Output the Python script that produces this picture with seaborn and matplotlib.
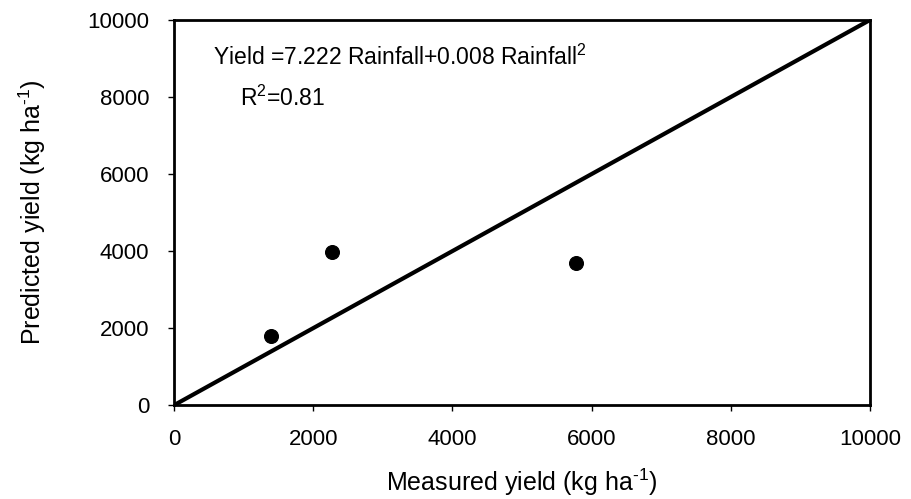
import seaborn as sns
import matplotlib.pyplot as plt
import pandas as pd

# Measured vs predicted yield (kg/ha)
measured = [1400, 2270, 5780]
predicted = [1800, 3980, 3700]

# 1:1 line
line_x = [0, 10000]
line_y = [0, 10000]

ticks = [0, 2000, 4000, 6000, 8000, 10000]

sns.set_theme(style='ticks')
plt.rcParams['font.family'] = ['Liberation Sans', 'DejaVu Sans']
plt.rcParams['mathtext.fontset'] = 'custom'
plt.rcParams['mathtext.rm'] = 'Liberation Sans'
plt.rcParams['text.color'] = 'black'
plt.rcParams['axes.labelcolor'] = 'black'
plt.rcParams['xtick.color'] = 'black'
plt.rcParams['ytick.color'] = 'black'

df = pd.DataFrame({'Measured': measured, 'Predicted': predicted})
ref = pd.DataFrame({'x': line_x, 'y': line_y})

fig = plt.figure(figsize=(9.11, 4.99), dpi=100)
ax = fig.add_axes([0.191, 0.188, 0.764, 0.772])

sns.lineplot(x='x', y='y', data=ref, color='black', linewidth=3, ax=ax)
sns.scatterplot(x='Measured', y='Predicted', data=df, color='black',
                s=100, marker='o', edgecolor='black', ax=ax, zorder=3)

ax.set_xlim(0, 10000)
ax.set_ylim(0, 10000)
ax.set_xticks(ticks)
ax.set_yticks(ticks)
ax.tick_params(labelsize=16, width=1, length=4)
ax.tick_params(axis='x', pad=13)
ax.tick_params(axis='y', pad=14)

for side in ax.spines.values():
    side.set_linewidth(2)
    side.set_color('black')

ax.set_xlabel('Measured yield (kg ha$^{\\text{-}1}$)', fontsize=18, labelpad=12)
ax.set_ylabel('Predicted yield (kg ha$^{\\text{-}1}$)', fontsize=18, labelpad=28)

ax.text(560, 9040, 'Yield =7.222 Rainfall+0.008 Rainfall$^2$', fontsize=16.5, va='center')
ax.text(950, 7970, 'R$^2$=0.81', fontsize=16.5, va='center')

plt.savefig('out.png', dpi=100)
plt.close()
